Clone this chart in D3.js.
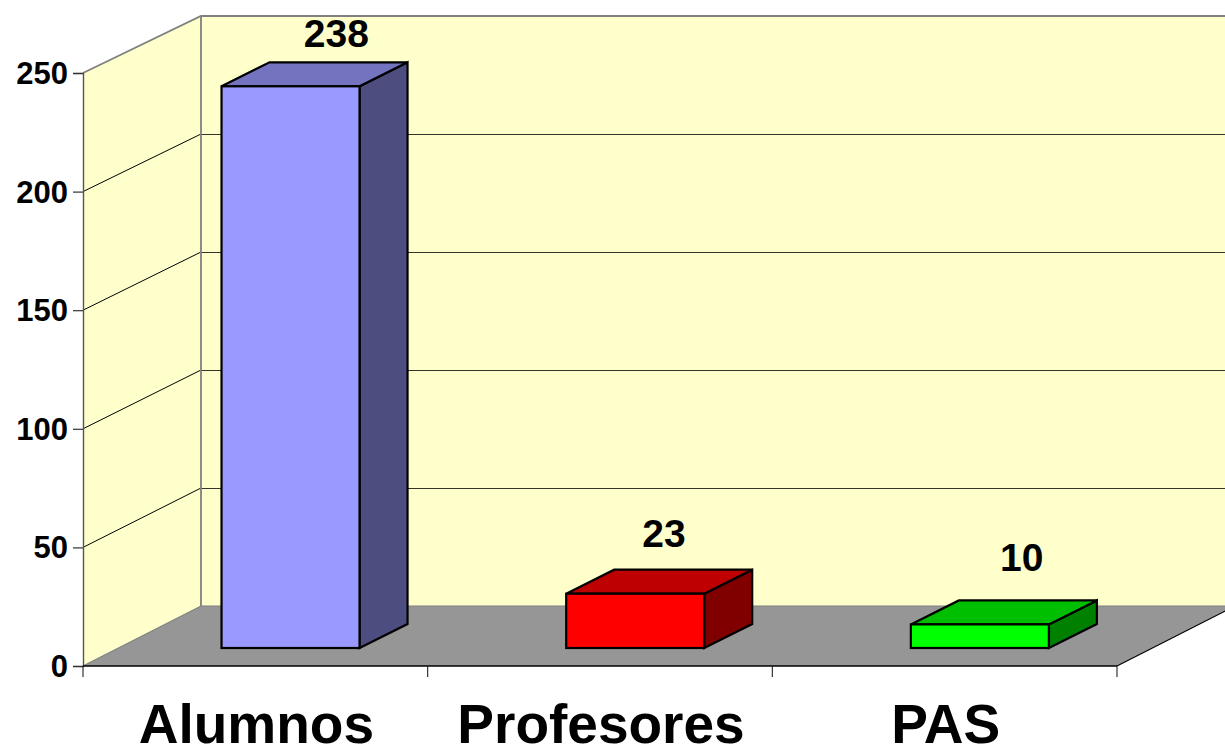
<!DOCTYPE html>
<html><head><meta charset="utf-8">
<script src="https://cdnjs.cloudflare.com/ajax/libs/d3/7.8.5/d3.min.js"></script>
<style>html,body{margin:0;padding:0;background:#fff;overflow:hidden}svg{display:block}text{font-family:"Liberation Sans",Arial,sans-serif;font-weight:700;fill:#000}</style>
</head><body><script>
const categories = ["Alumnos", "Profesores", "PAS"];
const values = [238, 23, 10];
const yTicks = [0, 50, 100, 150, 200, 250];
const faceColors = ["#9999FF", "#FF0000", "#00FF00"];
const topColors = ["#7373BF", "#BF0000", "#00BF00"];
const sideColors = ["#4D4D80", "#800000", "#008000"];

const W = 1225, H = 747;
const svg = d3.select("body").append("svg").attr("width", W).attr("height", H);

const x = d3.scaleBand().domain(categories).range([83, 1117]);
const yFront = d3.scaleLinear().domain([0, 250]).range([666, 73]);
const yBack = d3.scaleLinear().domain([0, 250]).range([606, 16]);
const yBar = d3.scaleLinear().domain([0, 250]).range([648, 58]);
const wallDx = 118, floorRightDy = 60;
const barW = 138, barShift = 35.2, depthX = 48, depthY = 24;
const labelDx = [45.8, 28.8, 41.8], labelDy = [15, 23, 29];
const poly = p => p.map(d => d.join(",")).join(" ");
const [x0, x1] = x.range(), backX = x0 + wallDx;

// walls and floor
svg.append("polygon").attr("points", poly([[backX, yBack(250)], [W + 2, yBack(250)], [W + 2, yBack(0)], [backX, yBack(0)]])).attr("fill", "#FFFFCC");
svg.append("polygon").attr("points", poly([[x0, yFront(250)], [backX, yBack(250)], [backX, yBack(0)], [x0, yFront(0)]])).attr("fill", "#FFFFCC");
svg.append("polygon").attr("points", poly([[x0, yFront(0)], [backX, yBack(0)], [W + 2, yBack(0)], [W + 2, yBack(0)+4],[x1, yFront(0)]])).attr("fill", "#969696");

// grid
const gridTicks = yTicks.slice(1, -1);
svg.selectAll("line.gl").data(gridTicks).join("line").attr("x1", x0).attr("y1", yFront).attr("x2", backX).attr("y2", yBack).attr("stroke", "#000").attr("stroke-width", 1);
svg.selectAll("line.gb").data(gridTicks).join("line").attr("x1", backX).attr("y1", d => Math.round(yBack(d)) + 0.5).attr("x2", W).attr("y2", d => Math.round(yBack(d)) + 0.5).attr("stroke", "#000").attr("stroke-width", 0.8);

// wall borders
const edge = "#808080";
svg.append("polyline").attr("points", poly([[x0, yFront(250)], [backX, yBack(250)], [W, yBack(250)]])).attr("fill", "none").attr("stroke", edge).attr("stroke-width", 1.8);
svg.append("line").attr("x1", backX).attr("x2", backX).attr("y1", yBack(250)).attr("y2", yBack(0)).attr("stroke", edge).attr("stroke-width", 1.8);
svg.append("polyline").attr("points", poly([[x0, yFront(0)], [backX, yBack(0)], [W, yBack(0)]])).attr("fill", "none").attr("stroke", edge).attr("stroke-width", 1.2);
svg.append("polyline").attr("points", poly([[x1, yFront(0)], [x1 + wallDx, yFront(0) - floorRightDy]])).attr("fill", "none").attr("stroke", "#000").attr("stroke-width", 1.2);

// axes
const gy = svg.append("g").attr("transform", `translate(${x0},0)`).call(d3.axisLeft(yFront).tickValues(yTicks).tickSize(10).tickPadding(5));
gy.select(".domain").attr("stroke", "#555").attr("stroke-width", 1.4);
gy.selectAll(".tick line").attr("stroke", "#333").attr("stroke-width", 1.2);
gy.selectAll("text").style("font-size", "31px").style("font-family", '"Liberation Sans"').style("font-weight", 700).attr("fill", "#000").attr("dy", "0.34em");

const tickX = d3.scaleOrdinal().domain([0, 1, 2, 3]).range([x0, x0 + x.step(), x0 + 2 * x.step(), x1]);
svg.append("line").attr("x1", x0).attr("x2", x1).attr("y1", 666).attr("y2", 666).attr("stroke", "#000").attr("stroke-width", 1.4);
svg.selectAll("line.tx").data([0, 1, 2, 3]).join("line").attr("x1", tickX).attr("x2", tickX).attr("y1", 666).attr("y2", 677).attr("stroke", "#222").attr("stroke-width", 1.1);

svg.selectAll("text.cat").data(categories).join("text").attr("class", "cat")
  .attr("x", d => x(d) + x.bandwidth() / 2 + 1).attr("y", 743).attr("text-anchor", "middle").style("font-size", "55px").text(d => d);

// bars
const bars = svg.selectAll("g.bar").data(values).join("g").attr("class", "bar")
  .attr("stroke", "#000").attr("stroke-width", 2.2).attr("stroke-linejoin", "miter");
const left = i => x(categories[i]) + x.bandwidth() / 2 + barShift - barW / 2;
const base = yBar(0);
bars.append("polygon").attr("fill", (d, i) => sideColors[i]).attr("points", (d, i) => { const r = left(i) + barW, t = yBar(d);
  return poly([[r, base], [r + depthX, base - depthY], [r + depthX, t - depthY], [r, t]]); });
bars.append("polygon").attr("fill", (d, i) => topColors[i]).attr("points", (d, i) => { const l = left(i), t = yBar(d);
  return poly([[l, t], [l + depthX, t - depthY], [l + barW + depthX, t - depthY], [l + barW, t]]); });
bars.append("rect").attr("fill", (d, i) => faceColors[i]).attr("x", (d, i) => left(i)).attr("y", d => yBar(d)).attr("width", barW).attr("height", d => base - yBar(d));

// value labels
svg.selectAll("text.val").data(values).join("text").attr("class", "val")
  .attr("x", (d, i) => left(i) + barW / 2 + labelDx[i])
  .attr("y", (d, i) => yBar(d) - depthY - labelDy[i])
  .attr("text-anchor", "middle").style("font-size", "39px").text(d => d);
</script></body></html>
